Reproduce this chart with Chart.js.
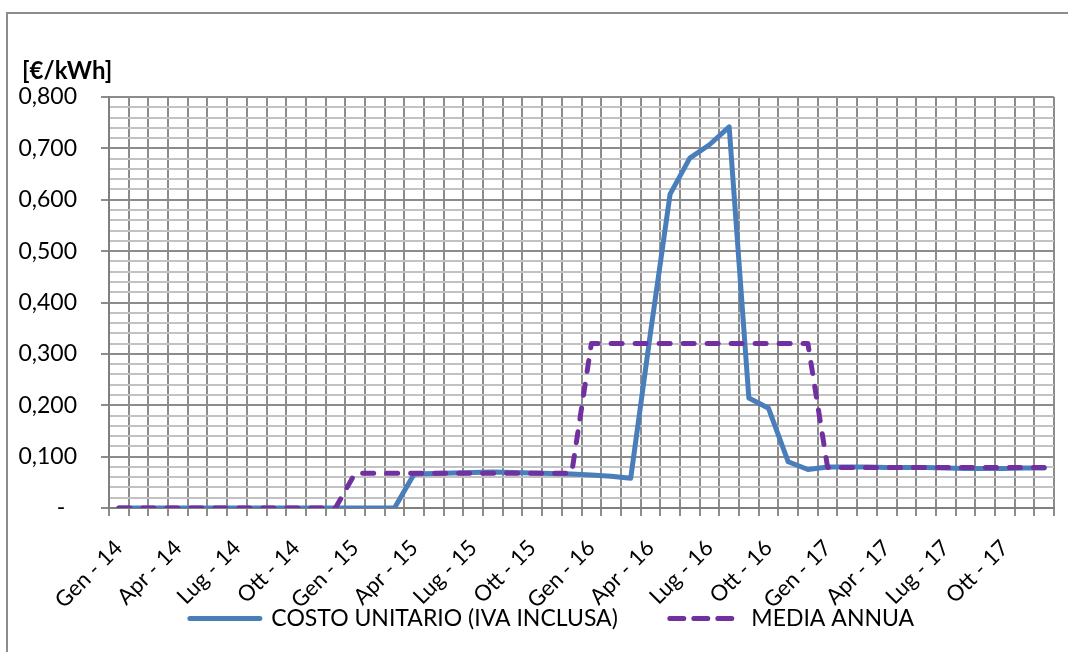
<!DOCTYPE html>
<html>
<head>
<meta charset="utf-8">
<script src="https://cdn.jsdelivr.net/npm/chart.js@4.4.1/dist/chart.umd.min.js"></script>
<style>
  html, body { margin: 0; padding: 0; background: #ffffff; }
  #frame { position: absolute; left: 6px; top: 12px; width: 1100px; height: 700px;
           border-left: 2px solid #8c8c8c; border-top: 2px solid #8c8c8c; }
  #wrap { position: absolute; left: 0; top: 0; width: 1068px; height: 652px; }
</style>
</head>
<body>
<div id="frame"></div>
<div id="wrap"><canvas id="chart" width="1068" height="652"></canvas></div>
<script>
// Monthly categories, Jan 2014 - Dec 2017
const months = ['Gen', 'Feb', 'Mar', 'Apr', 'Mag', 'Giu', 'Lug', 'Ago', 'Set', 'Ott', 'Nov', 'Dic'];
const years = ['14', '15', '16', '17'];
const categories = [];
years.forEach(y => months.forEach(m => categories.push(m + ' - ' + y)));

// Unit cost including VAT [€/kWh]
const costoUnitario = [
  0, 0, 0, 0, 0, 0, 0, 0, 0, 0, 0, 0,
  0, 0, 0, 0.066, 0.067, 0.068, 0.069, 0.070, 0.069, 0.068, 0.067, 0.066,
  0.064, 0.062, 0.058, 0.340, 0.611, 0.681, 0.707, 0.742, 0.214, 0.194, 0.090, 0.075,
  0.080, 0.080, 0.080, 0.079, 0.079, 0.079, 0.078, 0.077, 0.077, 0.077, 0.078, 0.078
];

// Yearly average [€/kWh]
const mediaAnnua = [
  0, 0, 0, 0, 0, 0, 0, 0, 0, 0, 0, 0,
  0.0675, 0.0675, 0.0675, 0.0675, 0.0675, 0.0675, 0.0675, 0.0675, 0.0675, 0.0675, 0.0675, 0.0675,
  0.320, 0.320, 0.320, 0.320, 0.320, 0.320, 0.320, 0.320, 0.320, 0.320, 0.320, 0.320,
  0.079, 0.079, 0.079, 0.079, 0.079, 0.079, 0.079, 0.079, 0.079, 0.079, 0.079, 0.079
];

const seriesNames = ['COSTO UNITARIO (IVA INCLUSA)', 'MEDIA ANNUA'];
const unitLabel = '[€/kWh]';

const FONT = 'Lato, "Open Sans", sans-serif';
const isMajor = v => Math.round(v * 1000) % 100 === 0;

// Tick labels may spill outside their axis box (rotated months, wide values);
// the fixed layout padding already leaves room for them.
const freeLabels = s => {
  s._computeLabelArea = () => undefined;
  s.paddingLeft = 0;
  s.paddingRight = 0;
  s.paddingTop = 0;
  s.paddingBottom = 0;
};

// Unit caption drawn above the value axis labels
const unitCaption = {
  id: 'unitCaption',
  afterDraw(chart) {
    const { ctx, chartArea } = chart;
    ctx.save();
    ctx.font = 'bold 24px ' + FONT;
    ctx.fillStyle = '#000';
    ctx.textAlign = 'left';
    ctx.textBaseline = 'middle';
    ctx.fillText(unitLabel, chartArea.left - 87, chartArea.top - 26);
    ctx.restore();
  }
};

new Chart(document.getElementById('chart'), {
  type: 'line',
  data: {
    labels: categories,
    datasets: [
      {
        label: seriesNames[0],
        data: costoUnitario,
        borderColor: '#4a7ebb',
        backgroundColor: '#4a7ebb',
        borderWidth: 5,
        pointRadius: 0,
        tension: 0,
        borderCapStyle: 'round',
        borderJoinStyle: 'round',
        order: 2
      },
      {
        label: seriesNames[1],
        data: mediaAnnua,
        borderColor: '#7030a0',
        backgroundColor: '#7030a0',
        borderWidth: 5,
        borderDash: [11, 13],
        borderCapStyle: 'round',
        borderJoinStyle: 'round',
        pointRadius: 0,
        tension: 0,
        order: 1
      }
    ]
  },
  options: {
    responsive: false,
    animation: false,
    layout: { autoPadding: false, padding: { left: 50, right: 14, top: 97, bottom: 12 } },
    plugins: {
      title: { display: false },
      legend: {
        position: 'bottom',
        labels: {
          color: '#000',
          font: { family: FONT, size: 23 },
          usePointStyle: true,
          pointStyle: 'line',
          pointStyleWidth: 70,
          padding: 52,
          generateLabels(chart) {
            const items = Chart.defaults.plugins.legend.labels.generateLabels(chart);
            items.forEach(item => {
              const ds = chart.data.datasets[item.datasetIndex];
              item.lineWidth = ds.borderWidth;
              item.strokeStyle = ds.borderColor;
              item.lineCap = 'round';
              item.lineDash = ds.borderDash ? [14, 10] : [];
            });
            return items;
          },
          sort: (a, b) => a.datasetIndex - b.datasetIndex
        }
      },
      tooltip: { enabled: false }
    },
    scales: {
      x: {
        offset: true,
        grid: {
          offset: true,
          color: '#8c8c8c',
          lineWidth: 2,
          tickLength: 8,
          tickColor: '#8c8c8c'
        },
        border: { color: '#808080', width: 2 },
        ticks: {
          autoSkip: false,
          maxRotation: 45,
          minRotation: 45,
          padding: 19,
          color: '#000',
          font: { family: FONT, size: 22 },
          callback: function (value, index) {
            return index % 3 === 0 ? categories[index] : '';
          }
        },
        afterFit: s => { s.height = 47; freeLabels(s); }
      },
      y: {
        min: 0,
        max: 0.8,
        grid: {
          color: ctx => isMajor(ctx.tick.value) ? '#8c8c8c' : '#c2c2c2',
          lineWidth: 2,
          tickLength: 8,
          tickColor: ctx => isMajor(ctx.tick.value) ? '#8c8c8c' : 'rgba(0,0,0,0)'
        },
        border: { color: '#808080', width: 2 },
        ticks: {
          stepSize: 0.02,
          autoSkip: false,
          padding: 24,
          color: '#000',
          font: { family: FONT, size: 23 },
          callback: function (value) {
            if (!isMajor(value)) return '';
            if (Math.abs(value) < 1e-9) return '-  ';
            return value.toFixed(3).replace('.', ',');
          }
        },
        afterFit: s => { s.width = 59; freeLabels(s); }
      }
    }
  },
  plugins: [unitCaption]
});
</script>
</body>
</html>
